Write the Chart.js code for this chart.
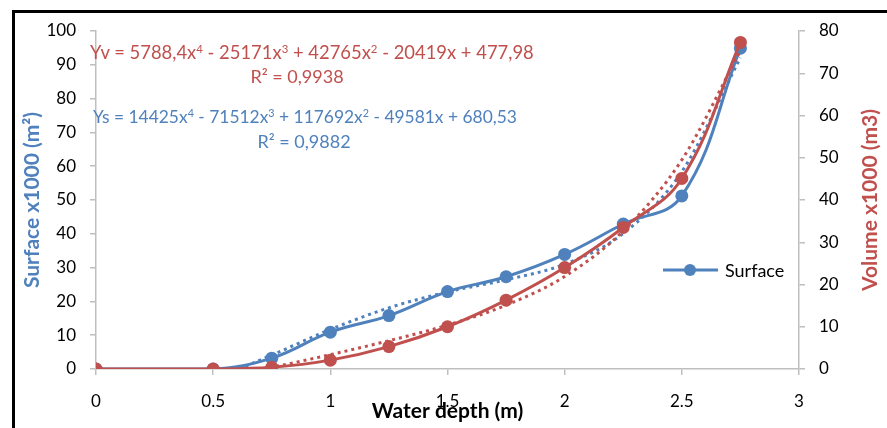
<!DOCTYPE html>
<html>
<head>
<meta charset="utf-8">
<script src="https://cdn.jsdelivr.net/npm/chart.js@4.4.1/dist/chart.umd.min.js"></script>
<style>
  html, body { margin: 0; padding: 0; background: #fff; overflow: hidden; }
  #wrap { position: relative; width: 887px; height: 428px; }
  #frame { position: absolute; left: 12px; top: 10px; width: 900px; height: 450px;
           border-left: 3px solid #000; border-top: 3px solid #000; pointer-events: none; }
  .eq { position: absolute; font-family: Lato, sans-serif; font-size: 18px; line-height: 22px; white-space: nowrap; }
  .eq sup { font-size: 0.62em; line-height: 0; vertical-align: 0.55em; }
  .red { color: #C0504D; }
  .blue { color: #4F81BD; }
</style>
</head>
<body>
<div id="wrap">
  <canvas id="myChart" width="887" height="428"></canvas>
  <div id="frame"></div>
  <div class="eq red" style="left:90px; top:41px; font-size:18.4px;">Yv = 5788,4x<sup>4</sup> - 25171x<sup>3</sup> + 42765x<sup>2</sup> - 20419x + 477,98</div>
  <div class="eq red" style="left:297px; top:65px; transform:translateX(-50%);">R² = 0,9938</div>
  <div class="eq blue" style="left:93px; top:106px; font-size:17.4px;">Ys = 14425x<sup>4</sup> - 71512x<sup>3</sup> + 117692x<sup>2</sup> - 49581x + 680,53</div>
  <div class="eq blue" style="left:304px; top:130px; transform:translateX(-50%);">R² = 0,9882</div>
</div>
<script>
const ctx = document.querySelector('#myChart');

const depth = [0, 0.5, 0.75, 1, 1.25, 1.5, 1.75, 2, 2.25, 2.5, 2.75]
const surface = [0, 0, 3.2, 10.9, 15.8, 22.9, 27.3, 33.9, 42.9, 51.2, 94.9]
const volume = [0, 0, 0.4, 2.1, 5.3, 10.0, 16.3, 24.0, 33.5, 45.1, 77.3]

const surfTrendDepth = [0.61, 0.75, 1, 1.25, 1.5, 1.75, 2, 2.25, 2.5, 2.75]
const surfTrend = [0, 4.1, 11.7, 18.1, 22.8, 26.4, 31.0, 40.1, 58.4, 92.1]
const volTrendDepth = [0.71, 0.75, 1, 1.25, 1.5, 1.75, 2, 2.25, 2.5, 2.75]
const volTrend = [0, 0.4, 3.4, 6.7, 10.4, 15.1, 21.9, 32.7, 49.5, 75.3]

const blue = '#4F81BD'
const red = '#C0504D'
const axisGray = '#BFBFBF'
const font = 'Lato, sans-serif'

const pts = (xs, ys) => xs.map((x, i) => ({ x: x, y: ys[i] }))

const extras = {
  id: 'extras',
  afterDraw(chart) {
    const c = chart.ctx
    c.save()
    // legend (Surface only)
    c.strokeStyle = blue
    c.lineWidth = 3
    c.beginPath()
    c.moveTo(663, 270)
    c.lineTo(718, 270)
    c.stroke()
    c.fillStyle = blue
    c.beginPath()
    c.arc(690, 270, 6, 0, Math.PI * 2)
    c.fill()
    c.fillStyle = '#000'
    c.font = '18px ' + font
    c.textBaseline = 'middle'
    c.textAlign = 'left'
    c.fillText('Surface', 725, 271)
    // right axis title, reading bottom to top
    c.translate(870, 200)
    c.rotate(-Math.PI / 2)
    c.fillStyle = red
    c.font = 'bold 21px ' + font
    c.textAlign = 'center'
    c.fillText('Volume x1000 (m3)', 0, 0)
    c.restore()
  }
}

const data = {
  datasets: [
    {
      label: 'Volume',
      data: pts(depth, volume),
      yAxisID: 'y1',
      borderColor: red,
      backgroundColor: red,
      borderWidth: 3,
      pointRadius: 6.5,
      pointBorderWidth: 0,
      tension: 0.4,
      order: 1,
    },
    {
      label: 'Poly. (Volume)',
      data: pts(volTrendDepth, volTrend),
      yAxisID: 'y1',
      borderColor: red,
      borderWidth: 3,
      borderDash: [3, 4],
      pointRadius: 0,
      cubicInterpolationMode: 'monotone',
      order: 2,
    },
    {
      label: 'Surface',
      data: pts(depth, surface),
      yAxisID: 'y',
      borderColor: blue,
      backgroundColor: blue,
      borderWidth: 3,
      pointRadius: 6.5,
      pointBorderWidth: 0,
      tension: 0.4,
      order: 3,
    },
    {
      label: 'Poly. (Surface)',
      data: pts(surfTrendDepth, surfTrend),
      yAxisID: 'y',
      borderColor: blue,
      borderWidth: 3,
      borderDash: [3, 4],
      pointRadius: 0,
      cubicInterpolationMode: 'monotone',
      order: 4,
    },
  ]
};

const config = {
  type: 'line',
  data: data,
  plugins: [extras],
  options: {
    responsive: false,
    animation: false,
    layout: { padding: { top: 31, left: 0, right: 0, bottom: 0 } },
    plugins: {
      legend: { display: false },
      tooltip: { enabled: false },
    },
    scales: {
      x: {
        type: 'linear',
        min: 0,
        max: 3,
        ticks: { stepSize: 0.5, color: '#000', font: { family: font, size: 17 }, padding: 16,
                 callback: v => String(v) },
        grid: { drawOnChartArea: false, color: axisGray, tickLength: 6, lineWidth: 1.5 },
        border: { color: axisGray, width: 1.5 },
        title: { display: true, text: 'Water depth (m)', color: '#000',
                 font: { family: font, size: 21, weight: 'bold' }, padding: { top: 0, bottom: 4 } },
        afterFit: s => { s.height = 59 },
      },
      y: {
        position: 'left',
        min: 0,
        max: 100,
        ticks: { stepSize: 10, color: '#000', font: { family: font, size: 17 }, padding: 14 },
        grid: { drawOnChartArea: false, color: axisGray, tickLength: 6, lineWidth: 1.5 },
        border: { color: axisGray, width: 1.5 },
        title: { display: true, text: 'Surface x1000 (m²)', color: blue,
                 font: { family: font, size: 21, weight: 'bold' }, padding: { top: 20, bottom: 0 } },
        afterFit: s => { s.width = 96 },
      },
      y1: {
        position: 'right',
        min: 0,
        max: 80,
        ticks: { stepSize: 10, color: '#000', font: { family: font, size: 17 }, padding: 14 },
        grid: { drawOnChartArea: false, color: axisGray, tickLength: 6, lineWidth: 1.5 },
        border: { color: axisGray, width: 1.5 },
        afterFit: s => { s.width = 88 },
      },
    },
  },
};

const myChart = new Chart(ctx, config)
</script>
</body>
</html>
